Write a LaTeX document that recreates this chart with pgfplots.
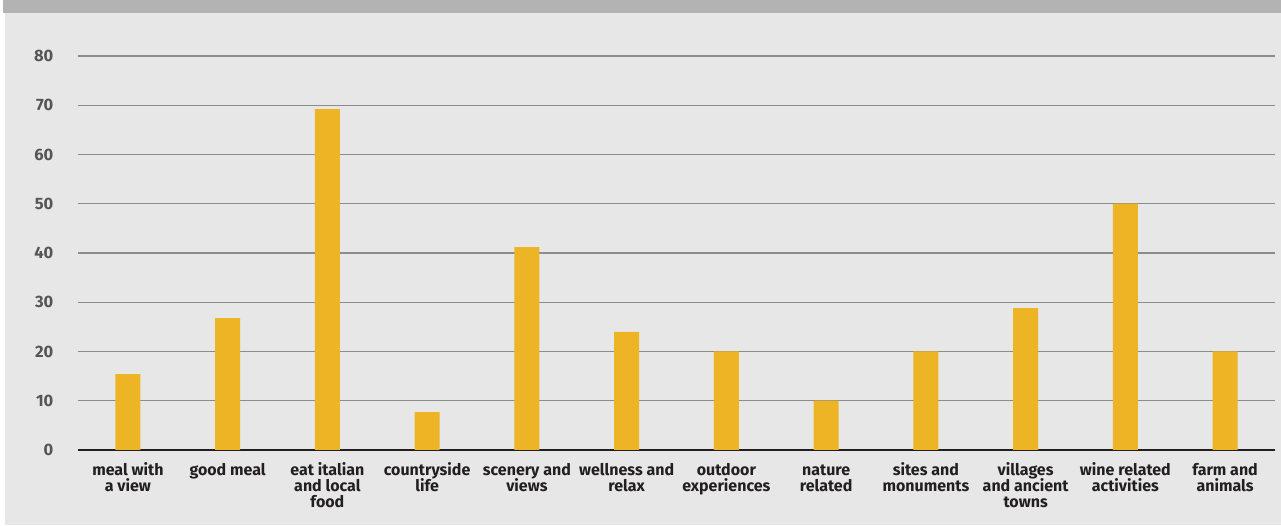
\documentclass[border=0pt]{standalone}
\usepackage{pgfplots}
\pgfplotsset{compat=1.18}
\usepackage{fontspec}
\setmainfont{Fira Sans}
\definecolor{bg}{HTML}{E7E7E7}
\definecolor{band}{HTML}{B3B3B3}
\definecolor{barc}{HTML}{EDB526}
\definecolor{gridc}{HTML}{8C8C8C}
\definecolor{tickc}{HTML}{555555}
\definecolor{labc}{HTML}{231F20}
\newcommand\Ll[1]{\rule[-4pt]{0pt}{12pt}\smash{#1}}
\begin{document}
\begin{tikzpicture}[x=1pt,y=1pt]
\useasboundingbox (0,0) rectangle (1281,526);
\fill[white] (0,0) rectangle (1281,526);
\fill[bg] (5,1) rectangle (1281,513);
\fill[band] (3,513) rectangle (1281,526);
\begin{axis}[
  at={(78pt,76pt)}, anchor=south west,
  scale only axis, width=1197pt, height=394pt,
  xmin=-0.5, xmax=11.5, ymin=0, ymax=80,
  axis x line=bottom, axis y line=left,
  y axis line style={draw=none},
  x axis line style={-, draw=labc, line width=2pt},
  xtick style={draw=none}, ytick style={draw=none},
  ymajorgrids, grid style={gridc, line width=1.2pt},
  ytick={0,10,...,80},
  /pgf/number format/assume math mode=true,
  yticklabel style={font=\fontsize{16.5}{16.5}\selectfont\bfseries, color=tickc, xshift=-19pt},
  xtick=data,
  xticklabels={{\Ll{meal with}\\\Ll{a view}},{\Ll{good meal}},{\Ll{eat italian}\\\Ll{and local}\\\Ll{food}},{\Ll{countryside}\\\Ll{life}},{\Ll{scenery and}\\\Ll{views}},{\Ll{wellness and}\\\Ll{relax}},{\Ll{outdoor}\\\Ll{experiences}},{\Ll{nature}\\\Ll{related}},{\Ll{sites and}\\\Ll{monuments}},{\Ll{villages}\\\Ll{and ancient}\\\Ll{towns}},{\Ll{wine related}\\\Ll{activities}},{\Ll{farm and}\\\Ll{animals}}},
  xticklabel style={align=center, font=\fontsize{16}{16}\selectfont\bfseries, color=labc, yshift=-10pt},
  ybar, bar width=25pt,
]
\addplot[fill=barc, draw=none] coordinates {
(0,15.4) (1,26.8) (2,69.2) (3,7.7) (4,41.2) (5,24.0) (6,20) (7,10) (8,20) (9,28.8) (10,50) (11,20)
};
\end{axis}
\end{tikzpicture}
\end{document}
